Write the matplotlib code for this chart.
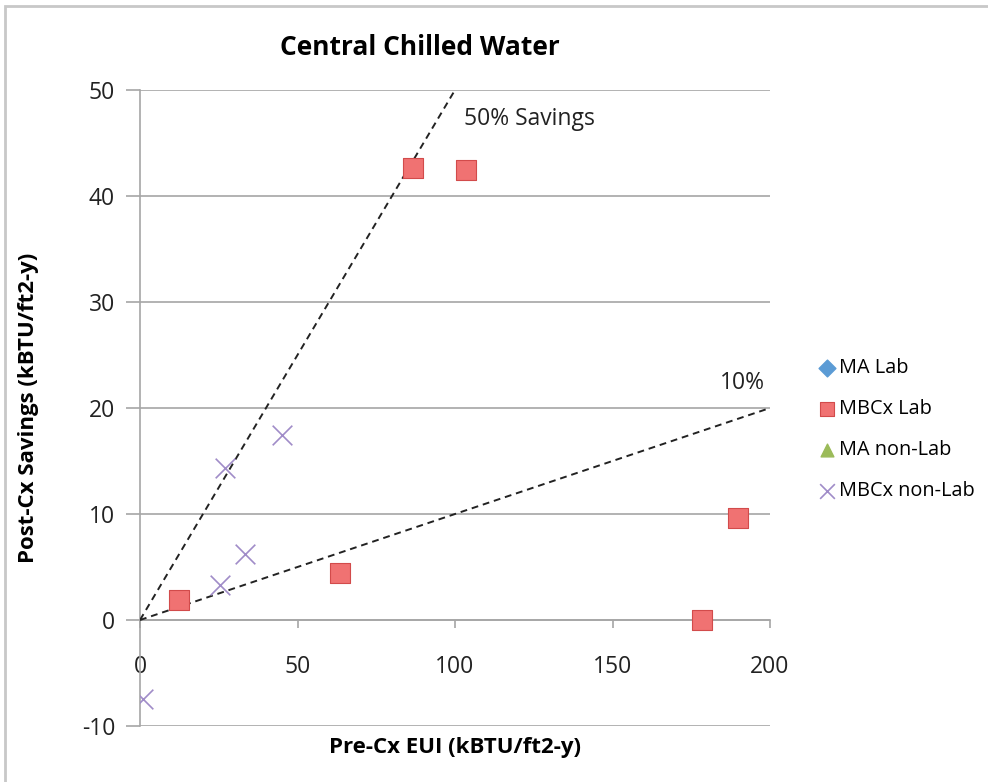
import matplotlib
matplotlib.use('Agg')
import matplotlib.pyplot as plt
from matplotlib.patches import Rectangle

plt.rcParams['font.family'] = ['Open Sans', 'DejaVu Sans']
plt.rcParams['axes.unicode_minus'] = False

# data
mbcx_lab_x = [12.4, 86.7, 103.5, 63.5, 178.4, 189.8]
mbcx_lab_y = [1.9, 42.6, 42.5, 4.4, 0.0, 9.6]
mbcx_nonlab_x = [1.0, 27.0, 45.0, 33.3, 25.4]
mbcx_nonlab_y = [-7.45, 14.3, 17.5, 6.2, 3.3]
ma_lab_x, ma_lab_y = [], []
ma_nonlab_x, ma_nonlab_y = [], []

# reference savings lines
line50_x = [0, 100]
line50_y = [0, 50]
line10_x = [0, 200]
line10_y = [0, 20]

x_ticks = [0, 50, 100, 150, 200]
y_ticks = [-10, 0, 10, 20, 30, 40, 50]

GRID = '#a6a6a6'
TXT = '#222222'

fig = plt.figure(figsize=(9.88, 7.82), dpi=100)
ax = fig.add_axes([140 / 988, 1 - 726 / 782, 630 / 988, 636 / 782])

# chart border like the spreadsheet frame
fig.patches.append(Rectangle((5 / 988, -0.1), 1.2, 1.1 - 6 / 782,
                             transform=fig.transFigure, fill=False,
                             edgecolor='#c8c8c8', linewidth=2))

ax.set_xlim(0, 200)
ax.set_ylim(-10, 50)
ax.set_xticks(x_ticks)
ax.set_yticks(y_ticks)
ax.yaxis.grid(True, color=GRID, linewidth=1.2)
ax.set_axisbelow(True)

for s in ['top', 'right']:
    ax.spines[s].set_visible(False)
ax.spines['bottom'].set_position(('data', 0))
for s in ['bottom', 'left']:
    ax.spines[s].set_color(GRID)
    ax.spines[s].set_linewidth(1.2)

ax.tick_params(axis='x', direction='out', length=6, color=GRID, pad=19,
               labelsize=16.5, labelcolor=TXT, width=1.2)
ax.tick_params(axis='y', direction='out', length=10, color=GRID, pad=8,
               labelsize=16.5, labelcolor=TXT, width=1.2)

ax.plot(line50_x, line50_y, color=TXT, linestyle=(0, (3.5, 2.5)),
        linewidth=1.4, zorder=3)
ax.plot(line10_x, line10_y, color=TXT, linestyle=(0, (3.5, 2.5)),
        linewidth=1.4, zorder=3)

ax.scatter(ma_lab_x, ma_lab_y, marker='D', s=130, color='#5b9bd5',
           label='MA Lab')
ax.scatter(mbcx_lab_x, mbcx_lab_y, marker='s', s=190, color='#f07272',
           edgecolors='#d24b4b', linewidths=0.8, label='MBCx Lab', zorder=4)
ax.scatter(ma_nonlab_x, ma_nonlab_y, marker='^', s=150, color='#9bbb59',
           label='MA non-Lab')
ax.scatter(mbcx_nonlab_x, mbcx_nonlab_y, marker='x', s=200, color='#a08cc8',
           linewidths=1.2, label='MBCx non-Lab', zorder=4)

ax.text(103, 47.3, '50% Savings', fontsize=16.5, color=TXT, va='center')
ax.text(184, 22.4, '10%', fontsize=16.5, color=TXT, va='center')

ax.set_title('Central Chilled Water', fontsize=19, fontweight='bold',
             pad=25, x=0.444)
ax.set_xlabel('Pre-Cx EUI (kBTU/ft2-y)', fontsize=16, fontweight='bold')
ax.xaxis.set_label_coords(0.5, -0.017)
ax.set_ylabel('Post-Cx Savings (kBTU/ft2-y)', fontsize=16, fontweight='bold')
ax.yaxis.set_label_coords(-0.16, 0.5)

ax.legend(loc='center left', bbox_to_anchor=(1.047, 0.466), frameon=False,
          fontsize=14.3, labelspacing=1.05, handletextpad=0.1,
          markerscale=0.75, handlelength=1.0)

fig.savefig('out.png', dpi=100)
